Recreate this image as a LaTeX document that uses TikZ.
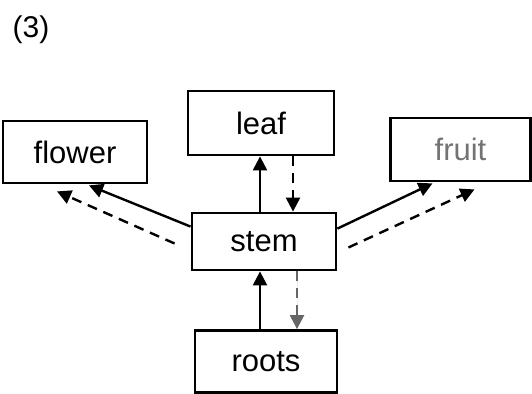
\documentclass[tikz,border=0pt]{standalone}
\usepackage{fontspec}
\setmainfont{Liberation Sans}
\usetikzlibrary{arrows.meta,calc}
\tikzset{
  box/.style={draw=black, line width=2.8pt, rectangle, inner sep=0pt,
    font=\fontsize{31}{35}\selectfont},
  solidarrow/.style={line width=2.4pt, -{Triangle[length=14pt,width=14pt]}},
  dasharrow/.style={line width=2.4pt, dash pattern=on 10pt off 7pt, -{Triangle[length=14pt,width=14pt]}},
}
\begin{document}
\begin{tikzpicture}[x=1pt,y=-1pt]
\useasboundingbox (0,0) rectangle (532,393);
\node[font=\fontsize{30}{34}\selectfont] (label) at (31,30) {(3)};
\node[box, minimum width=144pt, minimum height=62pt] (flower) at (75,152) {flower};
\node[box, minimum width=146pt, minimum height=64pt] (leaf) at (261,123) {leaf};
\node[box, minimum width=140pt, minimum height=63pt, text=black!55] (fruit) at (460.5,149.5) {fruit};
\node[box, minimum width=144pt, minimum height=57pt] (stem) at (264,241.5) {stem};
\node[box, minimum width=142pt, minimum height=62pt] (roots) at (266,361.5) {roots};
% leaf <-> stem
\draw[solidarrow] ($(stem.north)+(-4,0)$) -- ($(leaf.south)+(-1,0)$);
\draw[dasharrow] ($(leaf.south)+(32,0)$) -- ($(stem.north)+(29,0)$);
% stem <-> roots
\draw[solidarrow] ($(roots.north)+(-6,0)$) -- ($(stem.south)+(-4,0)$);
\draw[dasharrow, draw=black!60, fill=black!60] ($(stem.south)+(33,0)$) -- ($(roots.north)+(31,0)$);
% stem -> flower
\draw[solidarrow] ($(stem.north west)+(0,15)$) -- ($(flower.south)+(14,1)$);
\coordinate (fs) at ($(stem.west)+(-16,2)$);
\coordinate (fe) at ($(flower.south)+(-18,7)$);
\draw[dasharrow] (fs) -- (fe);
% stem -> fruit
\draw[solidarrow] ($(stem.north east)+(0,17)$) -- ($(fruit.south)+(-28,1)$);
\coordinate (rs) at ($(stem.east)+(11,6)$);
\coordinate (re) at ($(fruit.south)+(14,7)$);
\draw[dasharrow] (rs) -- (re);
\end{tikzpicture}
\end{document}
